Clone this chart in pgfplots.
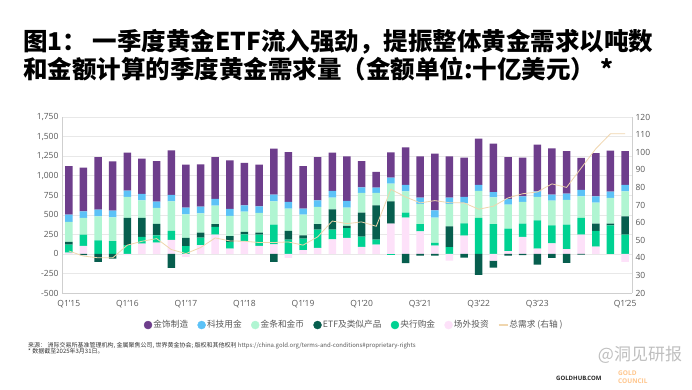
\documentclass[border=0pt]{standalone}
\usepackage{pgfplots}
\pgfplotsset{compat=1.18}
\usepackage{pgfplotstable}
\usepackage{fontspec}
\setmainfont{Open Sans}
\newfontfamily\cjk{Noto Sans CJK SC}
\definecolor{cJew}{HTML}{6E3E8C}
\definecolor{cTech}{HTML}{5CC2F7}
\definecolor{cBC}{HTML}{B0F5D2}
\definecolor{cETF}{HTML}{075E4E}
\definecolor{cCB}{HTML}{00D292}
\definecolor{cOTC}{HTML}{FDE1F9}
\definecolor{cLine}{HTML}{F0D6AE}
\definecolor{cTxt}{HTML}{595959}
\definecolor{cGrid}{HTML}{E8E8E8}
\definecolor{cAx}{HTML}{CFCFCF}

\pgfplotstableread{
k otc cb etf bc tech jew tot
0 17 102 34 255 94 621 43.9
1 102 145 -17 213 85 557 41.0
2 0 174 -102 307 85 672 40.0
3 0 162 -60 306 85 630 40.0
4 -15 111 349 268 81 485 47.2
5 132 85 243 225 81 451 49.4
6 145 93 145 204 81 519 50.9
7 179 115 -179 378 81 570 44.7
8 -38 98 106 302 85 549 42.4
9 111 98 63 247 85 541 45.8
10 247 98 34 238 85 536 51.3
11 68 85 73 259 89 622 49.6
12 162 89 30 259 81 541 49.4
13 102 145 25 251 86 531 48.7
14 123 251 -102 298 85 588 48.7
15 -51 183 111 285 85 638 49.0
16 47 149 42 264 77 544 47.2
17 77 234 68 221 85 553 51.9
18 187 124 259 149 85 490 60.9
19 204 124 29 234 86 570 59.4
20 89 132 307 251 72 336 60.4
21 119 64 438 158 68 200 57.9
22 387 -12 285 226 76 324 78.9
23 464 64 -119 272 81 481 74.6
24 289 90 -21 259 81 528 71.2
25 106 34 -21 324 93 724 72.5
26 -85 85 268 285 81 528 71.3
27 234 157 -47 256 81 502 71.2
28 0 460 -268 344 77 591 67.6
29 -85 379 -89 344 68 618 69.3
30 34 289 -21 307 72 536 74.0
31 217 170 -17 277 72 494 76.4
32 68 362 -136 298 72 596 77.4
33 136 230 -51 315 76 592 82.0
34 60 314 -115 315 81 545 80.0
35 247 213 -8 276 81 409 91.0
36 94 200 93 268 81 553 102.0
37 0 366 21 328 81 523 110.5
38 -102 247 234 319 81 434 110.5
}\data

\pgfplotsset{
  base/.style={width=570pt,height=176pt,scale only axis,
    at={(62pt,96pt)},anchor=south west,
    xmin=-0.464,xmax=38.47},
  tlab/.style={font=\fontsize{8.5}{10}\selectfont,color=cTxt},
}

\begin{document}
\begin{tikzpicture}
\path[fill=white] (0pt,0pt) rectangle (692pt,389pt);
\node[anchor=base west,inner sep=0,font=\cjk\bfseries\fontsize{24.5}{28}\selectfont] at (23pt,338pt) {图1： 一季度黄金ETF流入强劲，提振整体黄金需求以吨数};
\node[anchor=base west,inner sep=0,font=\cjk\bfseries\fontsize{24.5}{28}\selectfont] at (23pt,310pt) {和金额计算的季度黄金需求量（金额单位:十亿美元） *};

% positive stack
\begin{axis}[base, ymin=-500, ymax=1750,
  ybar stacked, bar width=7.5pt,
  axis x line*=bottom, axis y line*=left,
  axis line style={-,cAx,line width=0.6pt},
  ymajorgrids, grid style={cGrid,line width=0.5pt},
  major tick length=0,
  ytick={-500,-250,...,1750},
  xtick={0,4,8,12,16,20,24,28,32,38},
  xticklabels={Q1'15,Q1'16,Q1'17,Q1'18,Q1'19,Q1'20,Q3'21,Q3'22,Q3'23,Q1'25},
  /pgf/number format/assume math mode=true,
  yticklabel style={tlab},
  xticklabel style={tlab,yshift=-4pt},
]
\addplot[fill=cOTC,draw=none] table[x=k,y expr={max(\thisrow{otc},0)}]{\data};
\addplot[fill=cCB,draw=none] table[x=k,y expr={max(\thisrow{cb},0)}]{\data};
\addplot[fill=cETF,draw=none] table[x=k,y expr={max(\thisrow{etf},0)}]{\data};
\addplot[fill=cBC,draw=none] table[x=k,y expr={max(\thisrow{bc},0)}]{\data};
\addplot[fill=cTech,draw=none] table[x=k,y expr={max(\thisrow{tech},0)}]{\data};
\addplot[fill=cJew,draw=none] table[x=k,y expr={max(\thisrow{jew},0)}]{\data};
\end{axis}

% negative stack
\begin{axis}[base, ymin=-500, ymax=1750,
  ybar stacked, bar width=7.5pt,
  axis lines=none, ticks=none]
\addplot[fill=cOTC,draw=none] table[x=k,y expr={min(\thisrow{otc},0)}]{\data};
\addplot[fill=cCB,draw=none] table[x=k,y expr={min(\thisrow{cb},0)}]{\data};
\addplot[fill=cETF,draw=none] table[x=k,y expr={min(\thisrow{etf},0)}]{\data};
\end{axis}

% right axis line
\begin{axis}[base, ymin=20, ymax=120,
  axis x line=none, axis y line*=right,
  axis line style={-,cAx,line width=0.6pt},
  major tick length=0,
  ytick={20,30,...,120},
  /pgf/number format/assume math mode=true,
  yticklabel style={tlab},
  legend columns=7,
  legend style={at={(0.512,-0.182)},anchor=center,draw=none,fill=none,
    font=\cjk\fontsize{8.7}{10}\selectfont,text=cTxt,
    nodes={inner sep=1.2pt},
    /tikz/every even column/.append style={column sep=8pt}},
]
\addlegendimage{legend image code/.code={\fill[cJew] (4pt,0pt) circle (4pt);}}
\addlegendimage{legend image code/.code={\fill[cTech] (4pt,0pt) circle (4pt);}}
\addlegendimage{legend image code/.code={\fill[cBC] (4pt,0pt) circle (4pt);}}
\addlegendimage{legend image code/.code={\fill[cETF] (4pt,0pt) circle (4pt);}}
\addlegendimage{legend image code/.code={\fill[cCB] (4pt,0pt) circle (4pt);}}
\addlegendimage{legend image code/.code={\fill[cOTC] (4pt,0pt) circle (4pt);}}
\addplot[cLine,line width=0.8pt,mark=none,
  legend image code/.code={\draw[cLine,line width=1.2pt] (0pt,0pt) -- (9pt,0pt);}]
  table[x=k,y=tot]{\data};
\legend{金饰制造,科技用金,金条和金币,ETF及类似产品,央行购金,场外投资,总需求 (右轴 )}
\end{axis}

\node[anchor=base west,inner sep=0,font=\cjk\fontsize{6}{7}\selectfont,text=black!80] at (28pt,42pt) {来源： 洲际交易所基准管理机构, 金属聚焦公司, 世界黄金协会; 版权和其他权利 {\color{cTxt}https://china.gold.org/terms-and-conditions\#proprietary-rights}};
\node[anchor=base west,inner sep=0,font=\cjk\fontsize{6}{7}\selectfont,text=black!80] at (28pt,36pt) {* 数据截至2025年3月31日。};
\node[anchor=base west,inner sep=0,font=\bfseries\fontsize{6}{7}\selectfont,text=black!85] at (556pt,9pt) {GOLDHUB.COM};
\node[anchor=base west,inner sep=0,font=\bfseries\fontsize{6.5}{7}\selectfont,text=orange!45] at (618pt,14pt) {GOLD};
\node[anchor=base west,inner sep=0,font=\bfseries\fontsize{6.5}{7}\selectfont,text=orange!45] at (618pt,6pt) {COUNCIL};
\node[anchor=center,inner sep=0,font=\cjk\fontsize{17}{20}\selectfont,text=black!25] at (640pt,34pt) {@洞见研报};
\end{tikzpicture}
\end{document}
